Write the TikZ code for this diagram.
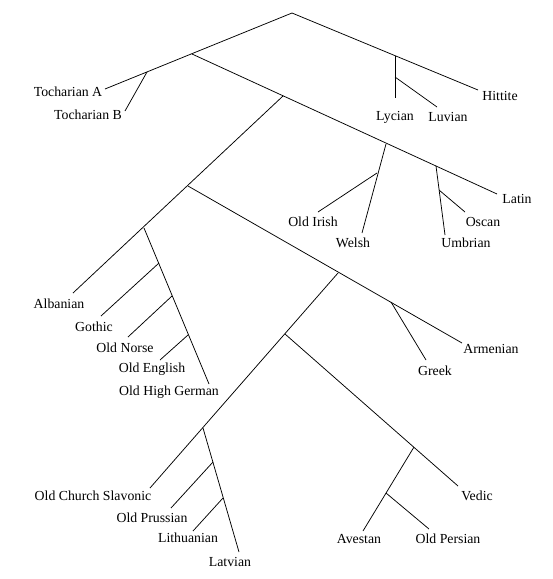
\documentclass[tikz,border=0pt]{standalone}
\usepackage{fontspec}
\setmainfont{Liberation Serif}
\begin{document}
\begin{tikzpicture}[x=1pt,y=-1pt,line width=0.75pt,
  lang/.style={inner sep=0pt,font=\fontsize{13.8}{16}\selectfont},
  edge/.style={draw=black}]
\useasboundingbox (0,0) rectangle (553,579);
% junctions
\coordinate (root) at (292,13);
\coordinate (jA) at (192,54);
\coordinate (jToch) at (147,72);
\coordinate (jAnat) at (395,56);
\coordinate (jLuv) at (395,77);
\coordinate (jB) at (283,96);
\coordinate (jCelt) at (386,144);
\coordinate (jIrish) at (377,173);
\coordinate (jItal) at (436,166);
\coordinate (jOsc) at (439,190);
\coordinate (jC) at (188,186);
\coordinate (jGerm) at (144,228);
\coordinate (jGoth) at (159,263);
\coordinate (jNorse) at (172,296);
\coordinate (jEng) at (188,335);
\coordinate (jD) at (338,273);
\coordinate (jGreek) at (391,302);
\coordinate (jE) at (285,334);
\coordinate (jII) at (414,447);
\coordinate (jAv) at (386,493);
\coordinate (jBS) at (203,428);
\coordinate (jOP) at (213,462);
\coordinate (jLith) at (223,498);
% leaf ends
\coordinate (eTA) at (105,89);
\coordinate (eTB) at (125,111);
\coordinate (eHit) at (478,90);
\coordinate (eLyc) at (395,98);
\coordinate (eLuv) at (437,107);
\coordinate (eLat) at (497,194);
\coordinate (eWel) at (362,233);
\coordinate (eIri) at (318,212);
\coordinate (eUmb) at (445,235);
\coordinate (eOsc) at (465,212);
\coordinate (eAlb) at (73,293);
\coordinate (eOHG) at (209,384);
\coordinate (eGot) at (101,316);
\coordinate (eNor) at (128,337);
\coordinate (eEng) at (160,360);
\coordinate (eArm) at (462,343);
\coordinate (eGre) at (426,360);
\coordinate (eOCS) at (150,488);
\coordinate (eVed) at (458,486);
\coordinate (eAve) at (363,531);
\coordinate (eOPe) at (429,529);
\coordinate (eLatv) at (239,552);
\coordinate (eOPr) at (171,508);
\coordinate (eLith) at (193,531);
% labels
\node[lang] (TA) at (68,92) {Tocharian A};
\node[lang] (TB) at (88,115) {Tocharian B};
\node[lang] (Hit) at (500,96) {Hittite};
\node[lang] (Lyc) at (395,117) {Lycian};
\node[lang] (Luv) at (448,117) {Luvian};
\node[lang] (Lat) at (517,199) {Latin};
\node[lang] (Iri) at (313,222) {Old Irish};
\node[lang] (Wel) at (353,243) {Welsh};
\node[lang] (Osc) at (483,222) {Oscan};
\node[lang] (Umb) at (466,243) {Umbrian};
\node[lang] (Alb) at (59,304) {Albanian};
\node[lang] (Got) at (94,327) {Gothic};
\node[lang] (Nor) at (125,348) {Old Norse};
\node[lang] (Eng) at (152,369) {Old English};
\node[lang] (OHG) at (169,392) {Old High German};
\node[lang] (Arm) at (491,349) {Armenian};
\node[lang] (Gre) at (435,371) {Greek};
\node[lang] (OCS) at (93,496) {Old Church Slavonic};
\node[lang] (OPr) at (152,518) {Old Prussian};
\node[lang] (Lith) at (188,538) {Lithuanian};
\node[lang] (Latv) at (230,562) {Latvian};
\node[lang] (Ved) at (477,496) {Vedic};
\node[lang] (Ave) at (359,539) {Avestan};
\node[lang] (OPe) at (448,539) {Old Persian};
% edges
\draw[edge] (eTA) -- (root) -- (eHit);
\draw[edge] (jToch) -- (eTB);
\draw[edge] (jAnat) -- (eLyc);
\draw[edge] (jLuv) -- (eLuv);
\draw[edge] (jA) -- (eLat);
\draw[edge] (jCelt) -- (eWel);
\draw[edge] (jIrish) -- (eIri);
\draw[edge] (jItal) -- (eUmb);
\draw[edge] (jOsc) -- (eOsc);
\draw[edge] (jB) -- (eAlb);
\draw[edge] (jGerm) -- (eOHG);
\draw[edge] (jGoth) -- (eGot);
\draw[edge] (jNorse) -- (eNor);
\draw[edge] (jEng) -- (eEng);
\draw[edge] (jC) -- (eArm);
\draw[edge] (jGreek) -- (eGre);
\draw[edge] (jD) -- (eOCS);
\draw[edge] (jE) -- (eVed);
\draw[edge] (jII) -- (eAve);
\draw[edge] (jAv) -- (eOPe);
\draw[edge] (jBS) -- (eLatv);
\draw[edge] (jOP) -- (eOPr);
\draw[edge] (jLith) -- (eLith);
\end{tikzpicture}
\end{document}
